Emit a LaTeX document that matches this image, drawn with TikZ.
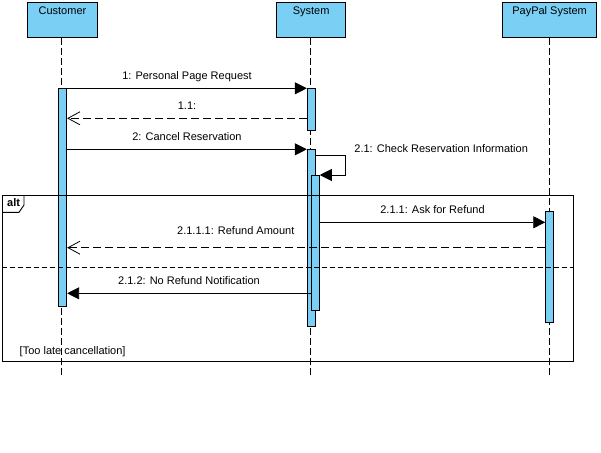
\documentclass[tikz,border=0pt]{standalone}
\usepackage{fontspec}
\setmainfont{Liberation Sans}
\usetikzlibrary{arrows.meta}
\definecolor{actblue}{RGB}{122,207,245}
\begin{document}
\begin{tikzpicture}[x=1pt,y=-1pt,
  font=\fontsize{11}{13}\selectfont, line width=0.9pt,
  head/.style={draw, fill=actblue, anchor=north west, minimum height=35pt,
    inner xsep=0pt, inner ysep=4pt, text height=8pt, text depth=19pt},
  act/.style={draw, fill=actblue, anchor=north, minimum width=8pt, inner sep=0pt},
  life/.style={dash pattern=on 7pt off 3pt, line width=0.8pt},
  msg/.style={-{Triangle[length=12pt,width=12pt]}},
  reply/.style={dash pattern=on 8pt off 4pt, -{Straight Barb[length=12pt,width=13pt,line width=0.8pt]}},
  mlab/.style={anchor=base, yshift=8.5pt, inner sep=0pt}]
\useasboundingbox (0,0) rectangle (601,452);

% heads
\node[head, minimum width=69.4pt] (hC) at (27.3,2.3) {Customer};
\node[head, minimum width=68.7pt] (hS) at (276.3,2.3) {System};
\node[head, minimum width=93.7pt] (hP) at (502.3,2.3) {PayPal System};

% lifeline ends
\coordinate (eC) at (61.7,375);
\coordinate (eS) at (310.3,375);
\coordinate (eP) at (549.3,375);
\draw[life] (hC.south -| eC) -- (eC);
\draw[life] (hS.south -| eS) -- (eS);
\draw[life] (hP.south -| eP) -- (eP);

% activations
\node[act, minimum height=217.4pt] (aC) at (62.7,88.3) {};
\node[act, minimum height=41.7pt] (aS1) at (311.3,88.3) {};
\node[act, minimum height=176.4pt] (aS2) at (311.3,149.3) {};
\node[act, minimum height=135.3pt] (aS3) at (315.3,175) {};
\node[act, minimum height=111pt] (aP) at (549.7,211.3) {};

% alt frame
\node[draw, anchor=north west, minimum width=571pt, minimum height=166pt, inner sep=0pt] (frame) at (2.3,195.3) {};
\draw (frame.north west) ++(21.7,0) coordinate (t1) -- ++(0,9.7) coordinate (t2) -- ++(-5,7.3) coordinate (t3) -- (frame.north west |- t3);
\node[anchor=base west, inner sep=0pt, font=\fontsize{11}{13}\selectfont\bfseries] (altlab) at (6.7,206.7) {alt};
\draw[dash pattern=on 5pt off 3pt, line width=0.8pt] (frame.west |- 0,267.3) coordinate (sepL) -- (frame.east |- 0,267.3) coordinate (sepR);
\node[anchor=base west, inner sep=0pt] (guard) at (19.3,354) {[Too late cancellation]};

% message end coordinates
\coordinate (m1a) at (aC.east |- 0,88.3);
\coordinate (m1b) at (aS1.west |- 0,88.3);
\coordinate (r1a) at (aS1.west |- 0,118.3);
\coordinate (r1b) at (aC.east |- 0,118.3);
\coordinate (m2a) at (aC.east |- 0,149.3);
\coordinate (m2b) at (aS2.west |- 0,149.3);
\coordinate (s1a) at (aS2.east |- 0,155.7);
\coordinate (s1b) at (aS3.east |- 0,175);
\coordinate (m3a) at (aS3.east |- 0,222.3);
\coordinate (m3b) at (aP.west |- 0,222.3);
\coordinate (r3a) at (aP.west |- 0,247.7);
\coordinate (r3b) at (aC.east |- 0,247.7);
\coordinate (m4a) at (aS3.west |- 0,293.3);
\coordinate (m4b) at (aC.east |- 0,293.3);

% messages
\draw[msg] (m1a) -- node[mlab] {1: Personal Page Request} (m1b);
\draw[reply] (r1a) -- node[mlab] {1.1:} (r1b);
\draw[msg] (m2a) -- node[mlab] {2: Cancel Reservation} (m2b);
\draw[msg] (s1a) -- (345,155.7) -- (345,175) -- (s1b);
\node[anchor=base west, inner sep=0pt] (s1lab) at (354,152) {2.1: Check Reservation Information};
\draw[msg] (m3a) -- node[mlab] {2.1.1: Ask for Refund} (m3b);
\draw[reply] (r3a) -- (r3b);
\node[anchor=base west, inner sep=0pt] (r3lab) at (176.7,234.3) {2.1.1.1: Refund Amount};
\draw[msg] (m4a) -- node[mlab] {2.1.2: No Refund Notification} (m4b);
\end{tikzpicture}
\end{document}
